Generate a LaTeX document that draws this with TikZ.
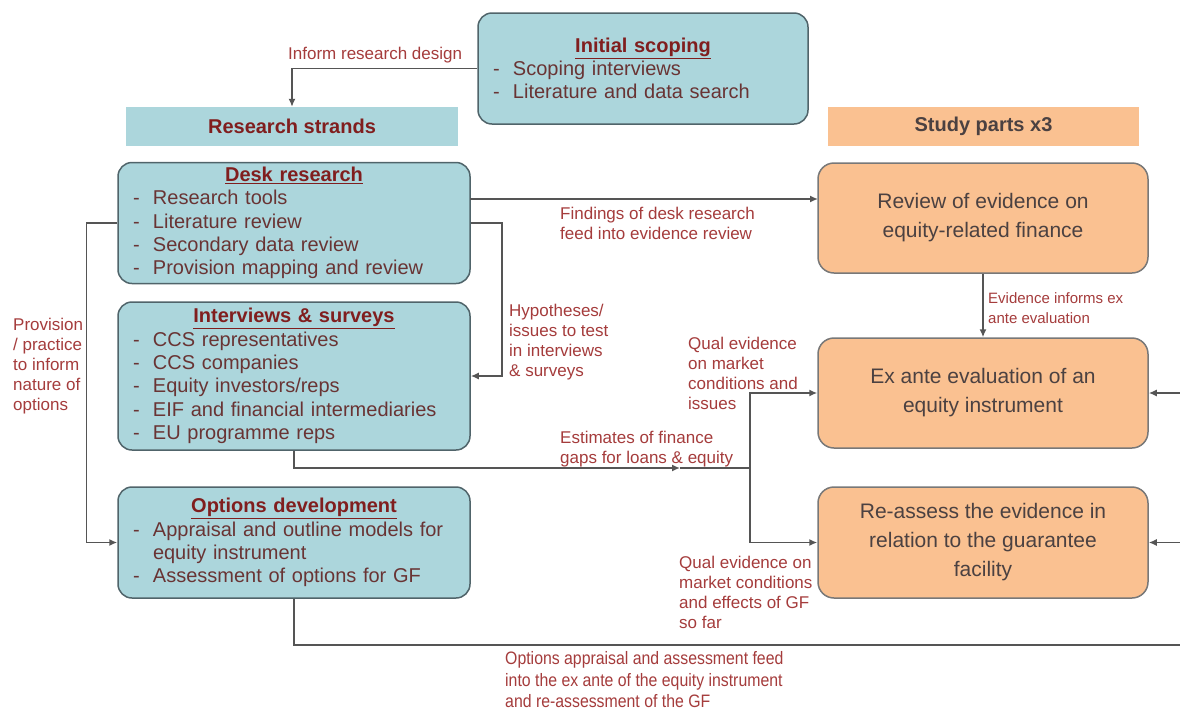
\documentclass[tikz,border=0pt]{standalone}
\usepackage{fontspec}
\setmainfont{Liberation Sans}
\newfontfamily\narrowfont[FakeStretch=0.88]{Liberation Sans}
\usetikzlibrary{arrows.meta}
\definecolor{bluefill}{RGB}{172,214,220}
\definecolor{blueedge}{RGB}{80,100,106}
\definecolor{orfill}{RGB}{250,193,145}
\definecolor{oredge}{RGB}{120,120,120}
\definecolor{titlered}{RGB}{128,30,30}
\definecolor{itemtxt}{RGB}{105,52,52}
\definecolor{lblcol}{RGB}{165,60,60}
\definecolor{ortxt}{RGB}{75,65,65}
\definecolor{conn}{RGB}{85,85,85}
\newcommand{\itm}[1]{\makebox[20pt][l]{-}#1}
\newcommand{\boxtitle}[1]{\noindent\makebox[\hsize]{\bfseries\color{titlered}\underline{#1}}}
\begin{document}
\begin{tikzpicture}[x=1pt,y=-1pt,
  bluebox/.style={draw=blueedge, line width=1.5pt, fill=bluefill, rounded corners=14pt,
    minimum width=352pt, text width=322pt, inner xsep=15pt, inner ysep=0pt, align=left,
    text=itemtxt, font=\fontsize{20}{23.3}\selectfont},
  orbox/.style={draw=oredge, line width=1.5pt, fill=orfill, rounded corners=16pt,
    minimum width=330pt, minimum height=110pt, align=center, text=ortxt,
    font=\fontsize{21}{29}\selectfont},
  bar/.style={minimum height=39pt, inner sep=0pt, font=\bfseries\fontsize{20}{24}\selectfont},
  lbl/.style={text=lblcol, font=\fontsize{17}{20}\selectfont, align=left, inner sep=0pt, anchor=west},
  conline/.style={draw=conn, line width=1.5pt},
  arr/.style={conline, -{Latex[length=8pt,width=7pt]}}
]
\clip (0,0) rectangle (1180,713);
\fill[white] (0,0) rectangle (1180,713);

% boxes
\node[bluebox, minimum width=330pt, text width=300pt, minimum height=111pt] (scope) at (643,68.5)
  {\boxtitle{Initial scoping}\\ \itm{Scoping interviews}\\ \itm{Literature and data search}};
\node[bar, fill=bluefill, text=titlered, minimum width=332pt] (rs) at (292,126.5) {Research strands};
\node[bar, fill=orfill, text=ortxt, minimum width=311pt] (sp) at (983.5,126.5) {Study parts x3};

\node[bluebox, minimum height=121pt] (desk) at (294,223)
  {\boxtitle{Desk research}\\ \itm{Research tools}\\ \itm{Literature review}\\ \itm{Secondary data review}\\ \itm{Provision mapping and review}};
\node[bluebox, minimum height=148pt] (inter) at (294,376)
  {\boxtitle{Interviews \& surveys}\\ \itm{CCS representatives}\\ \itm{CCS companies}\\ \itm{Equity investors/reps}\\ \itm{EIF and financial intermediaries}\\ \itm{EU programme reps}};
\node[bluebox, minimum height=111pt] (opt) at (294,542.5)
  {\boxtitle{Options development}\\ \itm{Appraisal and outline models for}\\ \hspace*{20pt}equity instrument\\ \itm{Assessment of options for GF}};

\node[orbox] (review) at (983,218) {Review of evidence on\\equity-related finance};
\node[orbox] (exante) at (983,393) {Ex ante evaluation of an\\equity instrument};
\node[orbox, minimum height=111pt] (reass) at (983,542.5) {Re-assess the evidence in\\relation to the guarantee\\facility};

% coordinates
\coordinate (dk1) at (470,199);
\coordinate (rv1) at (818,199);
\coordinate (midarrow) at (680,468);
\coordinate (jn) at (750,468);
\coordinate (rc) at (1195,645);

% connectors
\draw[arr] (scope.west) -| (rs.north);
\draw[arr] (dk1) -- (rv1);
\draw[arr] (desk.east) -- ++(31,0) |- (inter.east);
\draw[arr] (desk.west) -- ++(-31,0) |- (opt.west);
\draw[arr] (inter.south) |- (midarrow);
\draw[conline] (midarrow) -- (jn);
\draw[arr] (jn) |- (exante.west);
\draw[arr] (jn) |- (reass.west);
\draw[arr] (review.south) -- (exante.north);
\draw[conline] (opt.south) |- (rc);
\draw[arr] (rc) |- (exante.east);
\draw[arr] (rc) |- (reass.east);

% labels
\node[lbl] (l1) at (288,55) {Inform research design};
\node[lbl] (l2) at (560,223) {Findings of desk research\\feed into evidence review};
\node[lbl] (l3) at (509,342) {Hypotheses/\\issues to test\\in interviews\\\& surveys};
\node[lbl] (l4) at (688,373) {Qual evidence\\on market\\conditions and\\issues};
\node[lbl] (l5) at (560,449) {Estimates of finance\\gaps for loans \& equity};
\node[lbl] (l6) at (679,592) {Qual evidence on\\market conditions\\and effects of GF\\so far};
\node[lbl] (l7) at (13,366) {Provision\\/ practice\\to inform\\nature of\\options};
\node[lbl, font=\fontsize{15}{20}\selectfont] (l8) at (988,308) {Evidence informs ex\\ante evaluation};
\node[lbl, font=\narrowfont\fontsize{18}{21.5}\selectfont] (l9) at (505,680) {Options appraisal and assessment feed\\into the ex ante of the equity instrument\\and re-assessment of the GF};
\end{tikzpicture}
\end{document}
